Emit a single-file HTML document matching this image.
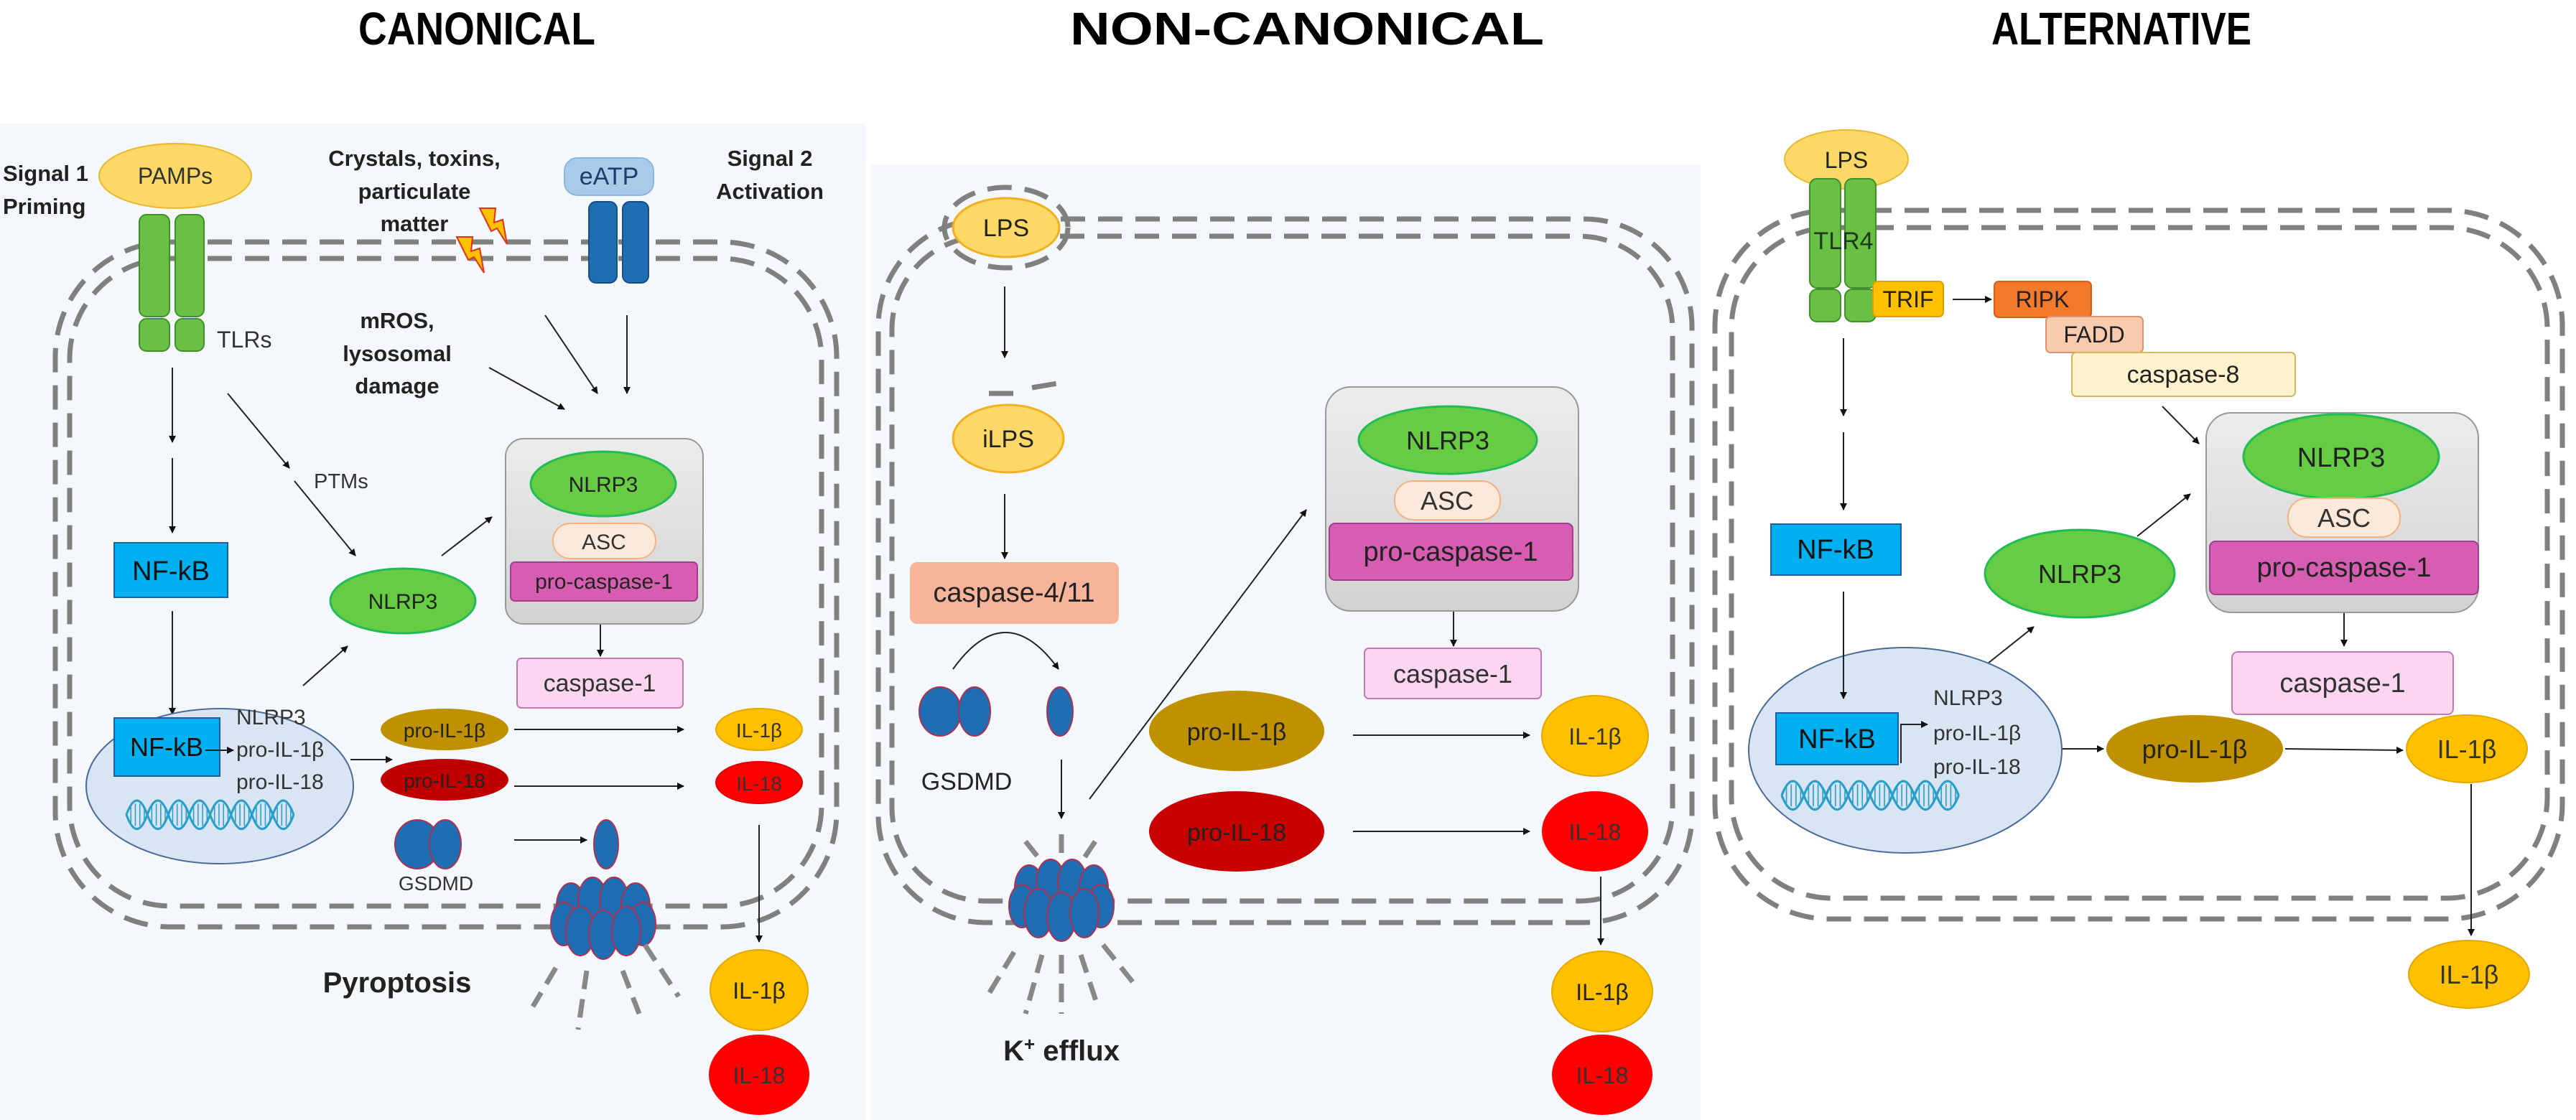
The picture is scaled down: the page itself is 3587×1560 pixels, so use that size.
<!DOCTYPE html>
<html><head><meta charset="utf-8"><style>
html,body{margin:0;padding:0;background:#fff}
svg{display:block}
text{font-family:"Liberation Sans",sans-serif}
</style></head><body>
<svg width="3587" height="1560" viewBox="0 0 3587 1560" xmlns="http://www.w3.org/2000/svg">
<defs>
<marker id="a" markerWidth="10" markerHeight="10" refX="9" refY="5" orient="auto" markerUnits="userSpaceOnUse" viewBox="0 0 10 10">
<path d="M0,0 L10,5 L0,10 z" fill="#111"/></marker>
<linearGradient id="g" x1="0" y1="0" x2="0" y2="1"><stop offset="0" stop-color="#ececec"/><stop offset="1" stop-color="#d2d2d2"/></linearGradient>
<g id="pore">
<ellipse cx="-45" cy="-20" rx="20" ry="32" fill="#1f6db3" stroke="#b03050" stroke-width="2"/>
<ellipse cx="-15" cy="-28" rx="20" ry="32" fill="#1f6db3" stroke="#b03050" stroke-width="2"/>
<ellipse cx="15" cy="-28" rx="20" ry="32" fill="#1f6db3" stroke="#b03050" stroke-width="2"/>
<ellipse cx="45" cy="-20" rx="20" ry="32" fill="#1f6db3" stroke="#b03050" stroke-width="2"/>
<ellipse cx="-55" cy="5" rx="18" ry="30" fill="#1f6db3" stroke="#b03050" stroke-width="2"/>
<ellipse cx="55" cy="5" rx="18" ry="30" fill="#1f6db3" stroke="#b03050" stroke-width="2"/>
<ellipse cx="-32" cy="15" rx="20" ry="34" fill="#1f6db3" stroke="#b03050" stroke-width="2"/>
<ellipse cx="0" cy="20" rx="20" ry="34" fill="#1f6db3" stroke="#b03050" stroke-width="2"/>
<ellipse cx="32" cy="15" rx="20" ry="34" fill="#1f6db3" stroke="#b03050" stroke-width="2"/>
</g>
<g id="dna" fill="none" stroke="#2a9fc9" stroke-width="3">
<path d="M0,18 q14,-36 28,0 t28,0 t28,0 t28,0 t28,0 t28,0 t28,0 t28,0"/>
<path d="M0,18 q14,36 28,0 t28,0 t28,0 t28,0 t28,0 t28,0 t28,0 t28,0"/>
<path d="M6,8v20M12,4v28M18,4v28M24,8v20M34,8v20M40,4v28M46,4v28M52,8v20M62,8v20M68,4v28M74,4v28M80,8v20M90,8v20M96,4v28M102,4v28M108,8v20M118,8v20M124,4v28M130,4v28M136,8v20M146,8v20M152,4v28M158,4v28M164,8v20M174,8v20M180,4v28M186,4v28M192,8v20M202,8v20M208,4v28M214,4v28M220,8v20" stroke-width="1.5"/>
</g>
</defs>

<rect x="0" y="172" width="1205" height="1388" fill="#f4f8fb"/>
<rect x="1212" y="229" width="1156" height="1331" fill="#f4f8fb"/>

<g font-weight="bold" font-size="64" fill="#000">
<text x="499" y="62" textLength="330" lengthAdjust="spacingAndGlyphs">CANONICAL</text>
<text x="1490" y="62" textLength="660" lengthAdjust="spacingAndGlyphs">NON-CANONICAL</text>
<text x="2773" y="62" textLength="362" lengthAdjust="spacingAndGlyphs">ALTERNATIVE</text>
</g>

<!-- CANONICAL -->
<g fill="none" stroke="#808080" stroke-width="7" stroke-dasharray="34 18">
<rect x="77" y="337" width="1088" height="954" rx="160"/>
<rect x="97" y="360" width="1047" height="902" rx="140"/>
</g>
<g font-weight="bold" font-size="31" fill="#222">
<text x="4" y="252">Signal 1</text><text x="4" y="298">Priming</text>
<text x="577" y="231" text-anchor="middle">Crystals, toxins,</text>
<text x="577" y="277" text-anchor="middle">particulate</text>
<text x="577" y="322" text-anchor="middle">matter</text>
<text x="1072" y="231" text-anchor="middle">Signal 2</text>
<text x="1072" y="277" text-anchor="middle">Activation</text>
<text x="553" y="457" text-anchor="middle">mROS,</text>
<text x="553" y="503" text-anchor="middle">lysosomal</text>
<text x="553" y="548" text-anchor="middle">damage</text>
<text x="553" y="1382" text-anchor="middle" font-size="40">Pyroptosis</text>
</g>
<ellipse cx="244" cy="245" rx="106" ry="45" fill="#fcd966" stroke="#e8b830" stroke-width="2"/>
<text x="244" y="256" text-anchor="middle" font-size="32" fill="#333">PAMPs</text>
<g fill="#6abf45" stroke="#3f8f2a" stroke-width="2">
<rect x="194" y="299" width="42" height="142" rx="10"/><rect x="244" y="299" width="40" height="142" rx="10"/>
<rect x="194" y="444" width="42" height="45" rx="10"/><rect x="244" y="444" width="40" height="45" rx="10"/>
</g>
<text x="302" y="484" font-size="32" fill="#333">TLRs</text>
<g fill="#ffc000" stroke="#e03020" stroke-width="2">
<polygon points="668,290 690,290 688,310 700,306 706,340 692,318 684,322"/>
<polygon points="636,330 658,330 656,350 668,346 674,380 660,358 652,362"/>
</g>
<rect x="786" y="220" width="124" height="52" rx="18" fill="#a9cbea" stroke="#8eb5dd" stroke-width="2"/>
<text x="848" y="257" text-anchor="middle" font-size="34" fill="#1e3d6b">eATP</text>
<g fill="#1f6db3" stroke="#174f85" stroke-width="2">
<rect x="820" y="281" width="39" height="113" rx="10"/><rect x="867" y="281" width="36" height="113" rx="10"/>
</g>
<g stroke="#222" stroke-width="2" marker-end="url(#a)" fill="none">
<line x1="240" y1="512" x2="240" y2="616"/>
<line x1="240" y1="638" x2="240" y2="742"/>
<line x1="240" y1="851" x2="240" y2="995"/>
<line x1="317" y1="548" x2="403" y2="652"/>
<line x1="410" y1="670" x2="495" y2="774"/>
<line x1="422" y1="955" x2="484" y2="900"/>
<line x1="615" y1="774" x2="685" y2="720"/>
<line x1="681" y1="512" x2="786" y2="570"/>
<line x1="759" y1="439" x2="832" y2="548"/>
<line x1="873" y1="439" x2="873" y2="548"/>
<line x1="836" y1="864" x2="836" y2="914"/>
<line x1="488" y1="1058" x2="546" y2="1058"/>
<line x1="716" y1="1016" x2="952" y2="1016"/>
<line x1="716" y1="1095" x2="952" y2="1095"/>
<line x1="1057" y1="1149" x2="1057" y2="1312"/>
<line x1="716" y1="1170" x2="817" y2="1170"/>
</g>
<text x="437" y="680" font-size="29" fill="#333">PTMs</text>
<rect x="159" y="756" width="158" height="76" fill="#00b0f0" stroke="#1f5f9f" stroke-width="2"/>
<text x="238" y="808" text-anchor="middle" font-size="38" fill="#111">NF-kB</text>
<ellipse cx="306" cy="1095" rx="186" ry="108" fill="#dae5f3" stroke="#4a6a99" stroke-width="2"/>
<rect x="159" y="1000" width="147" height="81" fill="#00b0f0" stroke="#1f5f9f" stroke-width="2"/>
<text x="232" y="1053" text-anchor="middle" font-size="36" fill="#111">NF-kB</text>
<line x1="286" y1="1045" x2="325" y2="1045" stroke="#222" stroke-width="2" marker-end="url(#a)"/>
<g font-size="30" fill="#333"><text x="329" y="1009">NLRP3</text><text x="329" y="1054">pro-IL-1β</text><text x="329" y="1099">pro-IL-18</text></g>
<use href="#dna" transform="translate(176,1115) scale(1.04,1.1)"/>
<ellipse cx="561" cy="837" rx="101" ry="45" fill="#66cc44" stroke="#22bb55" stroke-width="3"/>
<text x="561" y="848" text-anchor="middle" font-size="30" fill="#222">NLRP3</text>
<rect x="704" y="611" width="275" height="258" rx="25" fill="url(#g)" stroke="#999" stroke-width="2"/>
<ellipse cx="840" cy="674" rx="101" ry="45" fill="#66cc44" stroke="#22bb55" stroke-width="3"/>
<text x="840" y="685" text-anchor="middle" font-size="30" fill="#222">NLRP3</text>
<rect x="770" y="729" width="143" height="49" rx="24" fill="#fde9d9" stroke="#f4b183" stroke-width="2"/>
<text x="841" y="765" text-anchor="middle" font-size="30" fill="#333">ASC</text>
<rect x="711" y="783" width="260" height="54" rx="6" fill="#d65db1" stroke="#a03f90" stroke-width="2"/>
<text x="841" y="820" text-anchor="middle" font-size="30" fill="#222">pro-caspase-1</text>
<rect x="720" y="917" width="231" height="69" rx="6" fill="#fcd5f0" stroke="#c079b5" stroke-width="2"/>
<text x="835" y="963" text-anchor="middle" font-size="34" fill="#333">caspase-1</text>
<ellipse cx="619" cy="1016" rx="89" ry="29" fill="#bf9000"/>
<text x="619" y="1027" text-anchor="middle" font-size="28" fill="#222">pro-IL-1β</text>
<ellipse cx="619" cy="1086" rx="89" ry="29" fill="#c00000"/>
<text x="619" y="1097" text-anchor="middle" font-size="28" fill="#222">pro-IL-18</text>
<ellipse cx="1057" cy="1016" rx="60" ry="29" fill="#ffc000" stroke="#e0a800" stroke-width="2"/>
<text x="1057" y="1027" text-anchor="middle" font-size="28" fill="#333">IL-1β</text>
<ellipse cx="1057" cy="1090" rx="60" ry="29" fill="#ff0000" stroke="#d00" stroke-width="2"/>
<text x="1057" y="1101" text-anchor="middle" font-size="28" fill="#333">IL-18</text>
<ellipse cx="1057" cy="1379" rx="68" ry="56" fill="#ffc000" stroke="#e0a800" stroke-width="2"/>
<text x="1057" y="1391" text-anchor="middle" font-size="32" fill="#222">IL-1β</text>
<ellipse cx="1057" cy="1497" rx="70" ry="56" fill="#ff0000"/>
<text x="1057" y="1509" text-anchor="middle" font-size="32" fill="#333">IL-18</text>
<ellipse cx="581" cy="1176" rx="31" ry="34" fill="#1f6db3" stroke="#b03050" stroke-width="2"/>
<ellipse cx="620" cy="1176" rx="22" ry="34" fill="#1f6db3" stroke="#b03050" stroke-width="2"/>
<text x="607" y="1240" text-anchor="middle" font-size="28" fill="#333">GSDMD</text>
<ellipse cx="844" cy="1176" rx="17" ry="34" fill="#1f6db3" stroke="#b03050" stroke-width="2"/>
<use href="#pore" x="840" y="1282"/>
<g stroke="#888" stroke-width="7" stroke-dasharray="26 14">
<line x1="774" y1="1348" x2="742" y2="1402"/>
<line x1="817" y1="1352" x2="805" y2="1434"/>
<line x1="867" y1="1352" x2="890" y2="1412"/>
<line x1="898" y1="1316" x2="945" y2="1388"/>
</g>

<!-- NON-CANONICAL -->
<g fill="none" stroke="#808080" stroke-width="7" stroke-dasharray="34 18">
<rect x="1223" y="305" width="1133" height="980" rx="150"/>
<rect x="1242" y="329" width="1087" height="926" rx="130"/>
<ellipse cx="1401" cy="317" rx="86" ry="56"/>
<line x1="1377" y1="548" x2="1415" y2="548"/>
<line x1="1437" y1="540" x2="1478" y2="533"/>
</g>
<ellipse cx="1401" cy="317" rx="74" ry="41" fill="#fcd966" stroke="#f0b020" stroke-width="3"/>
<text x="1401" y="329" text-anchor="middle" font-size="34" fill="#222">LPS</text>
<ellipse cx="1404" cy="611" rx="77" ry="47" fill="#fcd966" stroke="#f0b020" stroke-width="3"/>
<text x="1404" y="623" text-anchor="middle" font-size="34" fill="#222">iLPS</text>
<rect x="1267" y="783" width="291" height="86" rx="10" fill="#f8b49a"/>
<text x="1412" y="838" text-anchor="middle" font-size="38" fill="#222">caspase-4/11</text>
<g stroke="#222" stroke-width="2" marker-end="url(#a)" fill="none">
<line x1="1399" y1="399" x2="1399" y2="498"/>
<line x1="1399" y1="688" x2="1399" y2="778"/>
<path d="M1327,932 Q1400,830 1474,932"/>
<line x1="1478" y1="1058" x2="1478" y2="1140"/>
<line x1="1517" y1="1113" x2="1819" y2="710"/>
<line x1="2024" y1="851" x2="2024" y2="900"/>
<line x1="1884" y1="1024" x2="2130" y2="1024"/>
<line x1="1884" y1="1158" x2="2130" y2="1158"/>
<line x1="2229" y1="1221" x2="2229" y2="1316"/>
</g>
<ellipse cx="1309" cy="991" rx="29" ry="34" fill="#1f6db3" stroke="#b03050" stroke-width="2"/>
<ellipse cx="1357" cy="991" rx="22" ry="34" fill="#1f6db3" stroke="#b03050" stroke-width="2"/>
<ellipse cx="1476" cy="991" rx="18" ry="34" fill="#1f6db3" stroke="#b03050" stroke-width="2"/>
<text x="1346" y="1100" text-anchor="middle" font-size="34" fill="#222">GSDMD</text>
<use href="#pore" x="1478" y="1257"/>
<g stroke="#888" stroke-width="7" stroke-dasharray="26 14">
<line x1="1428" y1="1172" x2="1452" y2="1202"/>
<line x1="1478" y1="1162" x2="1478" y2="1200"/>
<line x1="1525" y1="1172" x2="1505" y2="1202"/>
<line x1="1412" y1="1326" x2="1377" y2="1384"/>
<line x1="1451" y1="1330" x2="1428" y2="1412"/>
<line x1="1478" y1="1330" x2="1478" y2="1412"/>
<line x1="1505" y1="1330" x2="1528" y2="1400"/>
<line x1="1536" y1="1316" x2="1583" y2="1375"/>
</g>
<text x="1478" y="1477" text-anchor="middle" font-size="40" font-weight="bold" fill="#222">K<tspan font-size="26" dy="-14">+</tspan><tspan dy="14"> efflux</tspan></text>
<rect x="1846" y="539" width="352" height="312" rx="35" fill="url(#g)" stroke="#999" stroke-width="2"/>
<ellipse cx="2016" cy="613" rx="124" ry="47" fill="#66cc44" stroke="#22bb55" stroke-width="3"/>
<text x="2016" y="626" text-anchor="middle" font-size="36" fill="#222">NLRP3</text>
<rect x="1942" y="670" width="147" height="54" rx="26" fill="#fde9d9" stroke="#f4b183" stroke-width="2"/>
<text x="2015" y="710" text-anchor="middle" font-size="36" fill="#333">ASC</text>
<rect x="1851" y="729" width="339" height="79" rx="8" fill="#d65db1" stroke="#a03f90" stroke-width="2"/>
<text x="2020" y="781" text-anchor="middle" font-size="38" fill="#222">pro-caspase-1</text>
<rect x="1900" y="903" width="246" height="70" rx="6" fill="#fcd5f0" stroke="#c079b5" stroke-width="2"/>
<text x="2023" y="951" text-anchor="middle" font-size="36" fill="#333">caspase-1</text>
<ellipse cx="1722" cy="1018" rx="122" ry="56" fill="#bf9000"/>
<text x="1722" y="1031" text-anchor="middle" font-size="34" fill="#222">pro-IL-1β</text>
<ellipse cx="1722" cy="1158" rx="122" ry="56" fill="#c80000"/>
<text x="1722" y="1171" text-anchor="middle" font-size="34" fill="#222">pro-IL-18</text>
<ellipse cx="2221" cy="1025" rx="74" ry="56" fill="#ffc000" stroke="#e0a800" stroke-width="2"/>
<text x="2221" y="1037" text-anchor="middle" font-size="32" fill="#333">IL-1β</text>
<ellipse cx="2221" cy="1158" rx="74" ry="56" fill="#ff0000"/>
<text x="2221" y="1170" text-anchor="middle" font-size="32" fill="#333">IL-18</text>
<ellipse cx="2231" cy="1381" rx="70" ry="56" fill="#ffc000" stroke="#e0a800" stroke-width="2"/>
<text x="2231" y="1393" text-anchor="middle" font-size="32" fill="#222">IL-1β</text>
<ellipse cx="2231" cy="1497" rx="70" ry="56" fill="#ff0000"/>
<text x="2231" y="1509" text-anchor="middle" font-size="32" fill="#333">IL-18</text>

<!-- ALTERNATIVE -->
<g fill="none" stroke="#808080" stroke-width="7" stroke-dasharray="34 18">
<rect x="2388" y="293" width="1180" height="987" rx="160"/>
<rect x="2411" y="317" width="1136" height="934" rx="140"/>
</g>
<ellipse cx="2571" cy="222" rx="86" ry="41" fill="#fcd966" stroke="#e8b830" stroke-width="2"/>
<text x="2571" y="234" text-anchor="middle" font-size="32" fill="#222">LPS</text>
<g fill="#6abf45" stroke="#3f8f2a" stroke-width="2">
<rect x="2520" y="249" width="43" height="152" rx="10"/><rect x="2569" y="249" width="43" height="152" rx="10"/>
<rect x="2520" y="403" width="43" height="45" rx="10"/><rect x="2569" y="403" width="43" height="45" rx="10"/>
</g>
<text x="2567" y="347" text-anchor="middle" font-size="34" fill="#1a3a1a">TLR4</text>
<rect x="2608" y="392" width="98" height="49" rx="6" fill="#ffc000" stroke="#d9a000" stroke-width="2"/>
<text x="2657" y="428" text-anchor="middle" font-size="32" fill="#222">TRIF</text>
<rect x="2777" y="392" width="135" height="50" rx="6" fill="#f4792b" stroke="#d06020" stroke-width="2"/>
<text x="2844" y="428" text-anchor="middle" font-size="32" fill="#222">RIPK</text>
<rect x="2849" y="441" width="135" height="50" rx="6" fill="#f8cbad" stroke="#e09070" stroke-width="2"/>
<text x="2916" y="477" text-anchor="middle" font-size="32" fill="#222">FADD</text>
<rect x="2885" y="491" width="311" height="61" rx="6" fill="#fff2cc" stroke="#d6b656" stroke-width="2"/>
<text x="3040" y="533" text-anchor="middle" font-size="34" fill="#222">caspase-8</text>
<g stroke="#222" stroke-width="2" marker-end="url(#a)" fill="none">
<line x1="2719" y1="417" x2="2773" y2="417"/>
<line x1="3011" y1="566" x2="3062" y2="618"/>
<line x1="2567" y1="471" x2="2567" y2="579"/>
<line x1="2567" y1="602" x2="2567" y2="710"/>
<line x1="2567" y1="824" x2="2567" y2="973"/>
<line x1="2758" y1="932" x2="2832" y2="873"/>
<line x1="2976" y1="747" x2="3050" y2="688"/>
<line x1="3264" y1="846" x2="3264" y2="900"/>
<line x1="2871" y1="1043" x2="2929" y2="1043"/>
<line x1="3182" y1="1043" x2="3346" y2="1045"/>
<line x1="3441" y1="1092" x2="3441" y2="1303"/>
</g>
<rect x="2466" y="730" width="181" height="71" fill="#00b0f0" stroke="#1f5f9f" stroke-width="2"/>
<text x="2556" y="778" text-anchor="middle" font-size="38" fill="#111">NF-kB</text>
<ellipse cx="2653" cy="1045" rx="218" ry="143" fill="#dae5f3" stroke="#4a6a99" stroke-width="2"/>
<line x1="2567" y1="902" x2="2567" y2="973" stroke="#222" stroke-width="2" marker-end="url(#a)"/>
<rect x="2473" y="993" width="170" height="72" fill="#00b0f0" stroke="#1f5f9f" stroke-width="2"/>
<text x="2558" y="1042" text-anchor="middle" font-size="38" fill="#111">NF-kB</text>
<path d="M2647,1063 V1009 H2684" stroke="#222" stroke-width="2" fill="none" marker-end="url(#a)"/>
<g font-size="30" fill="#333"><text x="2692" y="982">NLRP3</text><text x="2692" y="1031">pro-IL-1β</text><text x="2692" y="1078">pro-IL-18</text></g>
<use href="#dna" transform="translate(2481,1088) scale(1.1,1.1)"/>
<ellipse cx="2896" cy="799" rx="132" ry="61" fill="#66cc44" stroke="#22bb55" stroke-width="3"/>
<text x="2896" y="812" text-anchor="middle" font-size="36" fill="#222">NLRP3</text>
<rect x="3072" y="575" width="379" height="278" rx="35" fill="url(#g)" stroke="#999" stroke-width="2"/>
<ellipse cx="3260" cy="636" rx="136" ry="59" fill="#66cc44" stroke="#22bb55" stroke-width="3"/>
<text x="3260" y="650" text-anchor="middle" font-size="38" fill="#222">NLRP3</text>
<rect x="3186" y="694" width="156" height="54" rx="26" fill="#fde9d9" stroke="#f4b183" stroke-width="2"/>
<text x="3264" y="734" text-anchor="middle" font-size="36" fill="#333">ASC</text>
<rect x="3077" y="754" width="374" height="74" rx="8" fill="#d65db1" stroke="#a03f90" stroke-width="2"/>
<text x="3264" y="803" text-anchor="middle" font-size="38" fill="#222">pro-caspase-1</text>
<rect x="3108" y="908" width="308" height="87" rx="8" fill="#fcd5f0" stroke="#c079b5" stroke-width="2"/>
<text x="3262" y="964" text-anchor="middle" font-size="38" fill="#333">caspase-1</text>
<ellipse cx="3056" cy="1043" rx="123" ry="47" fill="#bf9000"/>
<text x="3056" y="1056" text-anchor="middle" font-size="36" fill="#222">pro-IL-1β</text>
<ellipse cx="3435" cy="1043" rx="84" ry="47" fill="#ffc000" stroke="#e0a800" stroke-width="2"/>
<text x="3435" y="1056" text-anchor="middle" font-size="36" fill="#333">IL-1β</text>
<ellipse cx="3438" cy="1357" rx="84" ry="47" fill="#ffc000" stroke="#e0a800" stroke-width="2"/>
<text x="3438" y="1370" text-anchor="middle" font-size="36" fill="#333">IL-1β</text>
</svg>
</body></html>
